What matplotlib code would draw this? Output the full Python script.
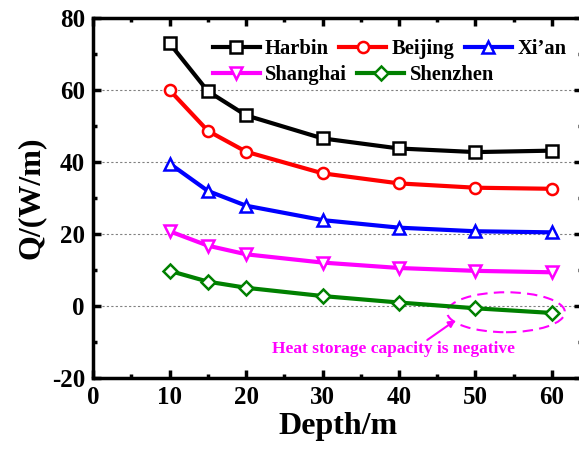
import matplotlib.pyplot as plt
from matplotlib.patches import Ellipse
from matplotlib.ticker import MultipleLocator

depth = [10, 15, 20, 30, 40, 50, 60]
harbin = [73.0, 59.7, 53.0, 46.6, 43.8, 42.8, 43.2]
beijing = [60.0, 48.7, 42.9, 36.9, 34.1, 32.9, 32.6]
xian = [39.6, 32.0, 27.9, 23.9, 21.8, 20.8, 20.5]
shanghai = [20.8, 16.8, 14.4, 12.1, 10.6, 9.8, 9.4]
shenzhen = [9.8, 6.8, 5.1, 2.8, 1.0, -0.6, -1.9]

plt.rcParams['font.family'] = ['Liberation Serif', 'DejaVu Serif']
plt.rcParams['font.weight'] = 'bold'
plt.rcParams['axes.unicode_minus'] = False

fig = plt.figure(figsize=(5.79, 4.55), dpi=100)
ax = fig.add_axes([0.161, 0.169, 0.845, 0.791])

lw = 3
ms = 8
h1, = ax.plot(depth, harbin, color='black', lw=lw, marker='s', ms=ms, mfc='white', mew=1.8, label='Harbin')
h2, = ax.plot(depth, beijing, color='red', lw=lw, marker='o', ms=ms, mfc='white', mew=1.8, label='Beijing')
h3, = ax.plot(depth, xian, color='blue', lw=lw, marker='^', ms=ms + 1, mfc='white', mew=1.8, label='Xi\u2019an')
h4, = ax.plot(depth, shanghai, color='magenta', lw=lw, marker='v', ms=ms + 1, mfc='white', mew=1.8, label='Shanghai')
h5, = ax.plot(depth, shenzhen, color='green', lw=lw, marker='D', ms=ms - 1, mfc='white', mew=1.8, label='Shenzhen')

ax.set_xlim(0, 64)
ax.set_ylim(-20, 80)
ax.xaxis.set_major_locator(MultipleLocator(10))
ax.xaxis.set_minor_locator(MultipleLocator(5))
ax.yaxis.set_major_locator(MultipleLocator(20))
ax.yaxis.set_minor_locator(MultipleLocator(10))
ax.tick_params(which='both', direction='in', top=True, right=True, width=2.5)
ax.tick_params(which='major', length=6, labelsize=18, pad=6)
ax.tick_params(which='minor', length=3)
for s in ax.spines.values():
    s.set_linewidth(2.5)

for yv in [0, 20, 40, 60]:
    ax.axhline(yv, color='gray', lw=0.8, ls=(0, (2, 2)), zorder=0)

ax.set_xlabel('Depth/m', fontsize=23, fontweight='bold', labelpad=2)
ax.set_ylabel('Q/(W/m)', fontsize=23, fontweight='bold', labelpad=4)

# legend: two rows, each left aligned
leg_kw = dict(frameon=False, loc='upper left', prop={'size': 14.8, 'weight': 'bold'},
              handlelength=2.3, handletextpad=0.25, columnspacing=0.5, borderaxespad=0)
leg1 = ax.legend([h1, h2, h3], ['Harbin', 'Beijing', 'Xi\u2019an'], ncol=3,
                 bbox_to_anchor=(0.227, 0.964), **leg_kw)
ax.add_artist(leg1)
ax.legend([h4, h5], ['Shanghai', 'Shenzhen'], ncol=2,
          bbox_to_anchor=(0.227, 0.892), **leg_kw)

ell = Ellipse((54.0, -1.7), 15.4, 11.1, fill=False, edgecolor='magenta', lw=1.5, ls=(0, (5, 3)))
ax.add_patch(ell)
ax.annotate('', xy=(47.4, -3.9), xytext=(43.7, -9.4),
            arrowprops=dict(arrowstyle='-|>', color='magenta', lw=1.5, shrinkA=0, shrinkB=0))
ax.text(39.3, -12.0, 'Heat storage capacity is negative', color='magenta', fontsize=12.5,
        fontweight='bold', ha='center', va='center')

fig.savefig('out.png', dpi=100)
